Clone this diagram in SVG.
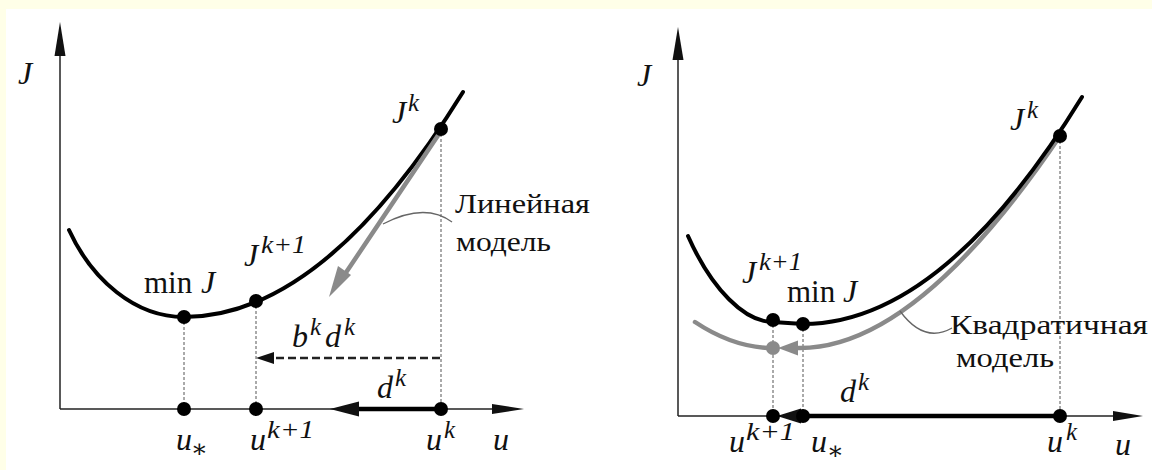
<svg xmlns="http://www.w3.org/2000/svg" width="1152" height="470" viewBox="0 0 1152 470">
<defs>
<style>
.ax{stroke:#222;stroke-width:1.5;fill:none}
.ah{fill:#111;stroke:none}
.curve{stroke:#000;stroke-width:4;fill:none;stroke-linecap:round}
.gray{stroke:#8a8a8a;stroke-width:4.5;fill:none;stroke-linecap:round}
.grayf{fill:#8a8a8a;stroke:none}
.vd{stroke:#555;stroke-width:1;stroke-dasharray:3 2;fill:none}
.lead{stroke:#666;stroke-width:1.3;fill:none}
.dot{fill:#000}
.m{font-family:'Liberation Serif','DejaVu Serif',serif;font-style:italic;font-size:32px;fill:#111}
.sup{font-family:'Liberation Serif','DejaVu Serif',serif;font-style:italic;font-size:25px;fill:#111}
.up{font-family:'Liberation Serif','DejaVu Serif',serif;font-size:31px;fill:#111}
.t{font-family:'Liberation Serif','DejaVu Serif',serif;font-size:28px;fill:#111}
</style>
</defs>
<rect x="0" y="0" width="1152" height="470" fill="#FFFFE8"/>
<rect x="6" y="9" width="1146" height="461" fill="#FFFFFF"/>

<g id="left-panel">
  <g id="left-axes">
    <line class="ax" x1="60" y1="50" x2="60" y2="409"/>
    <line class="ax" x1="60" y1="409" x2="500" y2="409"/>
    <polygon class="ah" points="60,22 54.5,56 65.5,56"/>
    <polygon class="ah" points="524,409 492,404 492,414"/>
    <text class="m" x="18" y="84">J</text>
    <text class="m" x="493" y="450">u</text>
  </g>
  <g id="left-guides">
    <line class="vd" x1="184" y1="317" x2="184" y2="409"/>
    <line class="vd" x1="256" y1="301" x2="256" y2="409"/>
    <line class="vd" x1="441" y1="129" x2="441" y2="409"/>
  </g>
  <g id="left-curve">
    <path class="curve" d="M69,230 C92,280 135,317 184,317 Q323.5,317 463,92"/>
  </g>
  <g id="left-linear-model">
    <line class="gray" x1="441" y1="131" x2="343" y2="277"/>
    <polygon class="grayf" points="329,297 338,266 351,275"/>
    <path class="lead" d="M383,224 Q425,202 452,222"/>
    <text class="t" x="455" y="213" textLength="135" lengthAdjust="spacingAndGlyphs">Линейная</text>
    <text class="t" x="456" y="251" textLength="95" lengthAdjust="spacingAndGlyphs">модель</text>
  </g>
  <g id="left-step">
    <line x1="440" y1="358" x2="270" y2="358" stroke="#222" stroke-width="2.5" stroke-dasharray="8 4"/>
    <polygon class="ah" points="256,358 274,352 274,364"/>
    <text class="m" x="292" y="347">b</text><text class="sup" x="310" y="335">k</text>
    <text class="m" x="325" y="347">d</text><text class="sup" x="344" y="335">k</text>
    <line x1="441" y1="409" x2="355" y2="409" stroke="#000" stroke-width="4.5"/>
    <polygon class="ah" points="330,409 359,401.5 359,416.5"/>
    <text class="m" x="377" y="398">d</text><text class="sup" x="395" y="386">k</text>
  </g>
  <g id="left-points">
    <circle class="dot" cx="184" cy="317" r="7"/>
    <circle class="dot" cx="256" cy="301" r="7"/>
    <circle class="dot" cx="441" cy="129" r="7"/>
    <circle class="dot" cx="184" cy="409" r="7"/>
    <circle class="dot" cx="256" cy="409" r="7"/>
    <circle class="dot" cx="441" cy="409" r="7"/>
    <text class="up" x="144" y="293">min</text><text class="m" x="201" y="293">J</text>
    <text class="m" x="244" y="266">J</text><text class="sup" x="261" y="253" textLength="45" lengthAdjust="spacingAndGlyphs">k+1</text>
    <text class="m" x="392" y="123">J</text><text class="sup" x="408" y="111">k</text>
    <text class="m" x="176" y="450">u</text><text class="sup" x="191" y="457" font-size="15">∗</text>
    <text class="m" x="250" y="450">u</text><text class="sup" x="267" y="438" textLength="47" lengthAdjust="spacingAndGlyphs">k+1</text>
    <text class="m" x="426" y="450">u</text><text class="sup" x="444" y="438">k</text>
  </g>
</g>

<g id="right-panel">
  <g id="right-axes">
    <line class="ax" x1="678" y1="50" x2="678" y2="416"/>
    <line class="ax" x1="678" y1="416" x2="1120" y2="416"/>
    <polygon class="ah" points="678,27 672.5,60 683.5,60"/>
    <polygon class="ah" points="1143,416 1113,411 1113,421"/>
    <text class="m" x="637" y="86">J</text>
    <text class="m" x="1115" y="455">u</text>
  </g>
  <g id="right-guides">
    <line class="vd" x1="773" y1="320" x2="773" y2="416"/>
    <line class="vd" x1="803" y1="324" x2="803" y2="416"/>
    <line class="vd" x1="1060" y1="136" x2="1060" y2="416"/>
  </g>
  <g id="right-quadratic-model">
    <path class="gray" d="M695,322 Q734,348 773,348"/>
    <path class="gray" d="M796,348 L800,348 Q916.5,348 1060,136"/>
    <polygon class="grayf" points="778,348 798,340.5 798,355.5"/>
    <circle cx="773" cy="348" r="7" fill="#8a8a8a"/>
    <path class="lead" d="M900,311 Q924,344 952,328"/>
    <text class="t" x="950" y="334" textLength="198" lengthAdjust="spacingAndGlyphs">Квадратичная</text>
    <text class="t" x="956" y="367" textLength="98" lengthAdjust="spacingAndGlyphs">модель</text>
  </g>
  <g id="right-curve">
    <path class="curve" d="M688,236 C712,290 745,322 773,322 L803,324 Q942.5,324 1082,97"/>
  </g>
  <g id="right-step">
    <line x1="1060" y1="416" x2="798" y2="416" stroke="#000" stroke-width="4.5"/>
    <polygon class="ah" points="777,416 801,408.5 801,423.5"/>
    <text class="m" x="840" y="402">d</text><text class="sup" x="858" y="390">k</text>
  </g>
  <g id="right-points">
    <circle class="dot" cx="773" cy="320" r="7"/>
    <circle class="dot" cx="803" cy="324" r="7"/>
    <circle class="dot" cx="1060" cy="136" r="7"/>
    <circle class="dot" cx="773" cy="416" r="7"/>
    <circle class="dot" cx="803" cy="416" r="7"/>
    <circle class="dot" cx="1060" cy="416" r="7"/>
    <text class="m" x="742" y="283">J</text><text class="sup" x="759" y="270" textLength="43" lengthAdjust="spacingAndGlyphs">k+1</text>
    <text class="up" x="787" y="302">min</text><text class="m" x="843" y="302">J</text>
    <text class="m" x="1010" y="130">J</text><text class="sup" x="1027" y="118">k</text>
    <text class="m" x="729" y="452">u</text><text class="sup" x="746" y="440" textLength="49" lengthAdjust="spacingAndGlyphs">k+1</text>
    <text class="m" x="811" y="452">u</text><text class="sup" x="827" y="459" font-size="15">∗</text>
    <text class="m" x="1047" y="452">u</text><text class="sup" x="1066" y="440">k</text>
  </g>
</g>
</svg>
